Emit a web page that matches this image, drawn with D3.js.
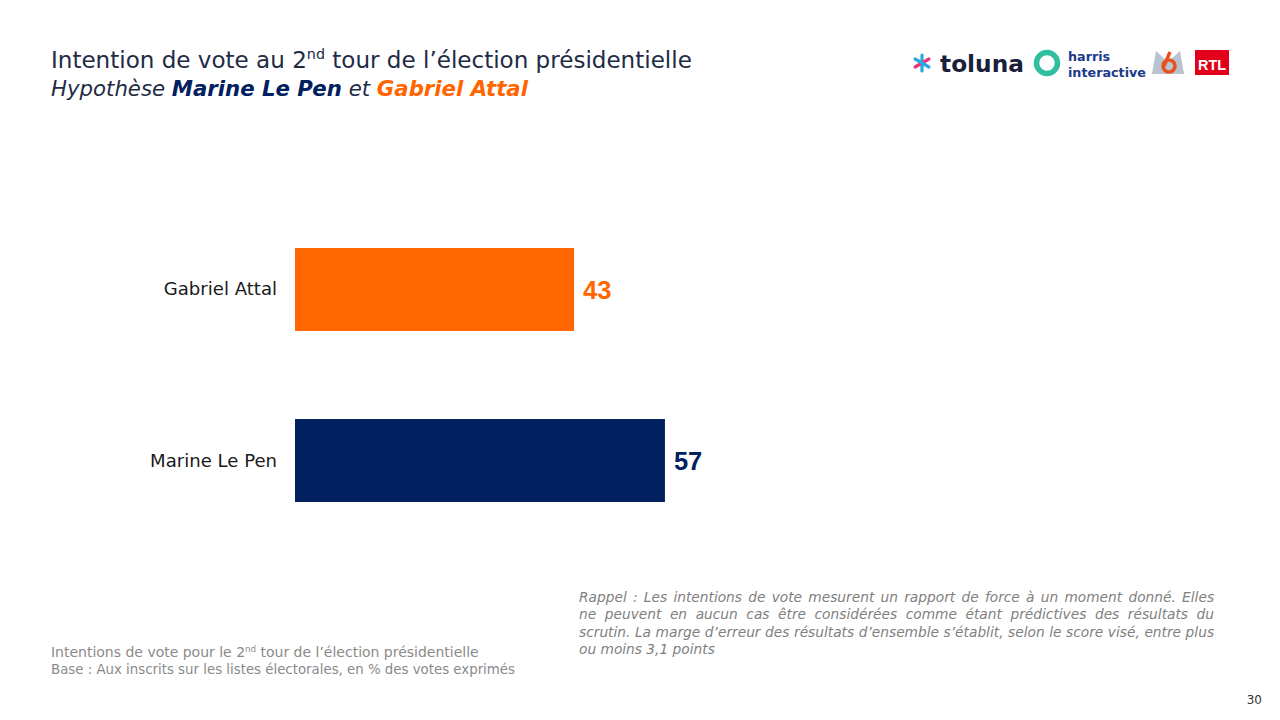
<!DOCTYPE html>
<html><head><meta charset="utf-8">
<script src="https://cdn.jsdelivr.net/npm/d3@7"></script>
<style>html,body{margin:0;padding:0;background:#fff;}svg{display:block;font-family:"DejaVu Sans",sans-serif;}</style>
</head><body><svg id="c" width="1280" height="720"></svg>
<script>
const categories = ["Gabriel Attal", "Marine Le Pen"];
const values = [43, 57];
const colors = ["#FF6600", "#002060"];

const svg = d3.select("#c");
const x = d3.scaleLinear().domain([0, 100]).range([295, 944]);
const y = d3.scaleBand().domain(categories).range([205, 545]).paddingInner(0.515).paddingOuter(0.2515);
const FONT = "'DejaVu Sans', sans-serif";

// scale a text's font size so its rendered width matches a target width
function fit(sel, target) {
  const n = sel.node();
  const fs = parseFloat(sel.attr("font-size"));
  const w = n.getComputedTextLength();
  sel.attr("font-size", (fs * target / w).toFixed(2));
  return sel;
}

// Title
const t1 = svg.append("text").attr("x", 51).attr("y", 68).attr("fill", "#222b45").attr("font-size", 21).attr("font-family", FONT);
t1.append("tspan").text("Intention de vote au 2");
t1.append("tspan").text("nd").attr("font-size", "62%").attr("dy", -9);
t1.append("tspan").text(" tour de l’élection présidentielle").attr("dy", 9);
fit(t1, 641);
const t2 = svg.append("text").attr("x", 51).attr("y", 96).attr("font-size", 21).attr("font-style", "italic").attr("font-family", FONT);
t2.append("tspan").text("Hypothèse ").attr("fill", "#222b45");
t2.append("tspan").text("Marine Le Pen").attr("fill", "#002060").attr("font-weight", "bold");
t2.append("tspan").text(" et ").attr("fill", "#222b45");
t2.append("tspan").text("Gabriel Attal").attr("fill", "#FF6600").attr("font-weight", "bold");
fit(t2, 477);

// Bars
svg.selectAll("rect.bar").data(categories).join("rect")
  .attr("class", "bar")
  .attr("x", x(0)).attr("y", d => y(d))
  .attr("width", (d, i) => x(values[i]) - x(0))
  .attr("height", y.bandwidth())
  .attr("fill", (d, i) => colors[i]);

svg.selectAll("text.val").data(categories).join("text")
  .attr("class", "val")
  .attr("x", (d, i) => x(values[i]) + 9)
  .attr("y", d => y(d) + y.bandwidth() / 2 + 9.5)
  .attr("font-size", 25.5).attr("font-weight", "bold")
  .attr("font-family", "'Liberation Sans', Arial, sans-serif")
  .attr("fill", (d, i) => colors[i])
  .text((d, i) => values[i]);

const cats = svg.selectAll("text.cat").data(categories).join("text")
  .attr("class", "cat")
  .attr("x", 277)
  .attr("y", d => y(d) + y.bandwidth() / 2 + 6)
  .attr("text-anchor", "end")
  .attr("font-size", 16)
  .attr("font-family", FONT)
  .attr("fill", "#1a1a1a")
  .text(d => d);
fit(d3.select(cats.nodes()[1]), 127);
cats.attr("font-size", d3.select(cats.nodes()[1]).attr("font-size"));

// Rappel
const rappel = [
  "Rappel : Les intentions de vote mesurent un rapport de force à un moment donné. Elles",
  "ne peuvent en aucun cas être considérées comme étant prédictives des résultats du",
  "scrutin. La marge d’erreur des résultats d’ensemble s’établit, selon le score visé, entre plus",
  "ou moins 3,1 points"
];
const rap = svg.selectAll("text.rap").data(rappel).join("text")
  .attr("class", "rap")
  .attr("x", 579).attr("y", (d, i) => 602 + i * 17.3)
  .attr("font-size", 12.5).attr("font-style", "italic")
  .attr("font-family", FONT)
  .attr("fill", "#808080")
  .text(d => d);
const l3 = d3.select(rap.nodes()[2]);
fit(l3, 633);
rap.attr("font-size", l3.attr("font-size"));
rap.each(function(d, i) {
  if (i < 3) {
    const w = this.getComputedTextLength();
    const spaces = d.split(" ").length - 1;
    d3.select(this).attr("word-spacing", ((635 - w) / spaces).toFixed(2));
  }
});

// Footer
const f1 = svg.append("text").attr("x", 51).attr("y", 657).attr("font-size", 13).attr("fill", "#8a8a8a").attr("font-family", FONT);
f1.append("tspan").text("Intentions de vote pour le 2");
f1.append("tspan").text("nd").attr("font-size", "62%").attr("dy", -5);
f1.append("tspan").text(" tour de l’élection présidentielle").attr("dy", 5);
fit(f1, 428);
const f2 = svg.append("text").attr("x", 51).attr("y", 674).attr("font-size", 13).attr("fill", "#8a8a8a").attr("font-family", FONT)
  .text("Base : Aux inscrits sur les listes électorales, en % des votes exprimés");
fit(f2, 464);
svg.append("text").attr("x", 1262).attr("y", 704).attr("text-anchor", "end").attr("font-size", 12).attr("fill", "#333").text("30");

// Logos
const lg = svg.append("g");
const ast = lg.append("g").attr("transform", "translate(922,63)");
[0, 60, 120].forEach((a, i) => {
  ast.append("line").attr("x1", -8).attr("x2", 8).attr("y1", 0).attr("y2", 0)
    .attr("stroke", ["#2aa8e0", "#e8367a", "#2aa8e0"][i]).attr("stroke-width", 3.2).attr("stroke-linecap", "round")
    .attr("transform", `rotate(${a + 90})`);
});
const tol = lg.append("text").attr("x", 940).attr("y", 72).attr("font-size", 24).attr("font-weight", "bold").attr("fill", "#1b1f3b")
  .attr("font-family", FONT).text("toluna");
fit(tol, 84);
lg.append("circle").attr("cx", 1047).attr("cy", 63).attr("r", 10.5).attr("fill", "none").attr("stroke", "#2fbf9f").attr("stroke-width", 5.5);
const h1 = lg.append("text").attr("x", 1068).attr("y", 61).attr("font-size", 13).attr("font-weight", "bold").attr("fill", "#1d3a8a")
  .attr("font-family", FONT).text("harris");
const h2 = lg.append("text").attr("x", 1068).attr("y", 76.5).attr("font-size", 13).attr("font-weight", "bold").attr("fill", "#1d3a8a")
  .attr("font-family", FONT).text("interactive");
fit(h2, 78);
h1.attr("font-size", h2.attr("font-size"));
lg.append("path").attr("d", "M1152,74 L1156,51 L1168,62 L1180,51 L1184,74 Z").attr("fill", "#b9c3cf");
lg.append("circle").attr("cx", 1169).attr("cy", 66).attr("r", 6).attr("fill", "none").attr("stroke", "#e8501e").attr("stroke-width", 3.5);
lg.append("path").attr("d", "M1164,66 L1170,52").attr("stroke", "#e8501e").attr("stroke-width", 3.5);
lg.append("rect").attr("x", 1195).attr("y", 50).attr("width", 34).attr("height", 25).attr("fill", "#e3001b");
const rtl = lg.append("text").attr("x", 1212).attr("y", 70).attr("text-anchor", "middle").attr("font-size", 16).attr("font-weight", "bold")
  .attr("fill", "#fff").attr("font-family", "'Liberation Sans Narrow', 'Liberation Sans', sans-serif").text("RTL");
fit(rtl, 28);
</script></body></html>
